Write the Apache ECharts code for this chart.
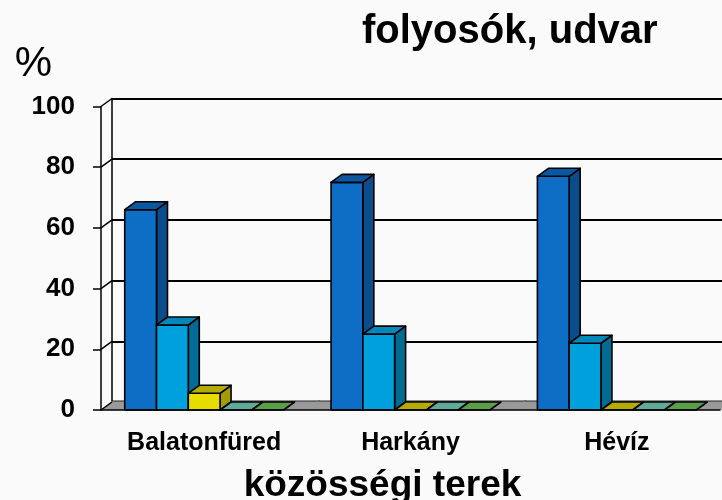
<!DOCTYPE html>
<html lang="hu" style="height: 100%">
<head>
  <meta charset="utf-8">
  <title>folyosók, udvar</title>
  <script src="https://cdn.jsdelivr.net/npm/echarts@6/dist/echarts.min.js"></script>
</head>
<body style="height: 100%; margin: 0; overflow: hidden; background: #fafafa">
  <div id="container" style="width: 100%; height: 100%"></div>
  <script type="text/javascript">
    // adatok
    var categories = ['Balatonfüred', 'Harkány', 'Hévíz'];
    var darkBlue = [66, 75, 77];
    var lightBlue = [28, 25, 22];
    var yellow = [5.5, 0, 0];
    var teal = [0, 0, 0];
    var green = [0, 0, 0];
    var yTicks = [0, 20, 40, 60, 80, 100];

    var DX = 11, DY = -8;   // mélység eltolás
    var FONT = 'Liberation Sans';

    // front, top, side színek
    var palettes = [
      ['#0e6ec6', '#0c58a0', '#0a4c8c'],
      ['#00a0dc', '#0088bc', '#006c94'],
      ['#e6dc00', '#b4ac00', '#a49c00'],
      ['#74bcac', '#60aa9a', '#4e8c7e'],
      ['#6aae58', '#5a9e4a', '#4a843c']
    ];
    var seriesData = [darkBlue, lightBlue, yellow, teal, green];

    var dom = document.getElementById('container');
    var myChart = echarts.init(dom, null, { renderer: 'canvas' });

    function barRender(s, pal) {
      return function (params, api) {
        var idx = api.value(0), v = api.value(1);
        var base = api.coord([idx, 0]);
        var top = api.coord([idx, v]);
        var catW = api.size([1, 0])[0];
        var bw = catW * 0.77 / 5;
        var x0 = base[0] - catW / 2 + catW * 0.115 + s * bw;
        var x1 = x0 + bw;
        var ln = { stroke: '#000', lineWidth: 1.6, lineJoin: 'round' };
        var children = [];
        if (v > 0) {
          children.push({
            type: 'polygon',
            shape: { points: [[x1, top[1]], [x1 + DX, top[1] + DY], [x1 + DX, base[1] + DY], [x1, base[1]]] },
            style: Object.assign({ fill: pal[2] }, ln)
          });
          children.push({
            type: 'rect',
            shape: { x: x0, y: top[1], width: bw, height: base[1] - top[1] },
            style: Object.assign({ fill: pal[0] }, ln)
          });
        }
        children.push({
          type: 'polygon',
          shape: { points: [[x0, top[1]], [x1, top[1]], [x1 + DX, top[1] + DY], [x0 + DX, top[1] + DY]] },
          style: Object.assign({ fill: pal[1] }, ln)
        });
        return { type: 'group', children: children };
      };
    }

    function floorRender(params, api) {
      var idx = api.value(0);
      var base = api.coord([idx, 0]);
      var catW = api.size([1, 0])[0];
      var l = base[0] - catW / 2, r = base[0] + catW / 2 + 1;
      return {
        type: 'group',
        children: [
          {
            type: 'polygon',
            shape: { points: [[l, base[1]], [r, base[1]], [r + DX, base[1] + DY - 1], [l + DX, base[1] + DY - 1]] },
            style: { fill: '#999999' }
          },
          {
            type: 'line',
            shape: { x1: l + DX, y1: base[1] + DY - 1, x2: r + DX, y2: base[1] + DY - 1 },
            style: { stroke: '#222', lineWidth: 1.2 }
          }
        ]
      };
    }

    function connRender(params, api) {
      var p = api.coord([0, api.value(1)]);
      var catW = api.size([1, 0])[0];
      var x = p[0] - catW / 2;
      return {
        type: 'line',
        shape: { x1: x, y1: p[1], x2: x + DX, y2: p[1] + DY },
        style: { stroke: '#000', lineWidth: 1.5 }
      };
    }

    var series = [
      {
        type: 'custom',
        xAxisIndex: 0, yAxisIndex: 0,
        renderItem: floorRender,
        data: categories.map(function (c, i) { return [i, 0]; }),
        silent: true
      },
      {
        type: 'custom',
        xAxisIndex: 0, yAxisIndex: 0,
        renderItem: connRender,
        data: yTicks.map(function (v) { return [0, v]; }),
        silent: true
      }
    ];
    seriesData.forEach(function (arr, s) {
      series.push({
        type: 'custom',
        xAxisIndex: 0, yAxisIndex: 0,
        renderItem: barRender(s, palettes[s]),
        data: arr.map(function (v, i) { return [i, v]; })
      });
    });

    var option = {
      backgroundColor: '#fafafa',
      animation: false,
      title: {
        text: 'folyosók, udvar',
        left: 357,
        top: 7,
        textStyle: { fontFamily: FONT, fontSize: 40, fontWeight: 'bold', color: '#000' }
      },
      grid: [
        { left: 101, right: 2, top: 106.5, bottom: 90, outerBoundsMode: 'none' },
        { left: 101 + DX, right: 2 - DX, top: 106.5 + DY, bottom: 90 - DY, outerBoundsMode: 'none' }
      ],
      xAxis: [
        {
          type: 'category',
          gridIndex: 0,
          data: categories,
          axisLine: { lineStyle: { color: '#000', width: 1.5 } },
          axisTick: { length: 8, lineStyle: { color: '#000', width: 1.5 } },
          axisLabel: { margin: 21, color: '#000', fontFamily: FONT, fontSize: 25, fontWeight: 'bold' },
          name: 'közösségi terek',
          nameLocation: 'middle',
          nameGap: 57,
          nameTextStyle: { color: '#000', fontFamily: FONT, fontSize: 37, fontWeight: 'bold', padding: [0, 56, 0, 0] },
          z: 5
        },
        {
          type: 'category',
          gridIndex: 1,
          data: categories,
          show: false
        }
      ],
      yAxis: [
        {
          type: 'value',
          gridIndex: 0,
          min: 0, max: 100, interval: 20,
          splitLine: { show: false },
          axisLine: { show: true, lineStyle: { color: '#000', width: 1.5 } },
          axisTick: { show: true, length: 8, lineStyle: { color: '#000', width: 1.5 } },
          axisLabel: { margin: 26, color: '#000', fontFamily: FONT, fontSize: 26, fontWeight: 'bold' },
          name: '%',
          nameLocation: 'end',
          nameGap: 42,
          nameTextStyle: { color: '#000', fontFamily: FONT, fontSize: 42, align: 'right', verticalAlign: 'middle', padding: [0, 49, 0, 0] }
        },
        {
          type: 'value',
          gridIndex: 1,
          min: 0, max: 100, interval: 20,
          axisLine: { show: true, lineStyle: { color: '#000', width: 1.5 } },
          axisTick: { show: false },
          axisLabel: { show: false },
          splitLine: { lineStyle: { color: '#000', width: 2 } }
        }
      ],
      series: series
    };

    myChart.setOption(option);
    window.addEventListener('resize', myChart.resize);
  </script>
</body>
</html>
